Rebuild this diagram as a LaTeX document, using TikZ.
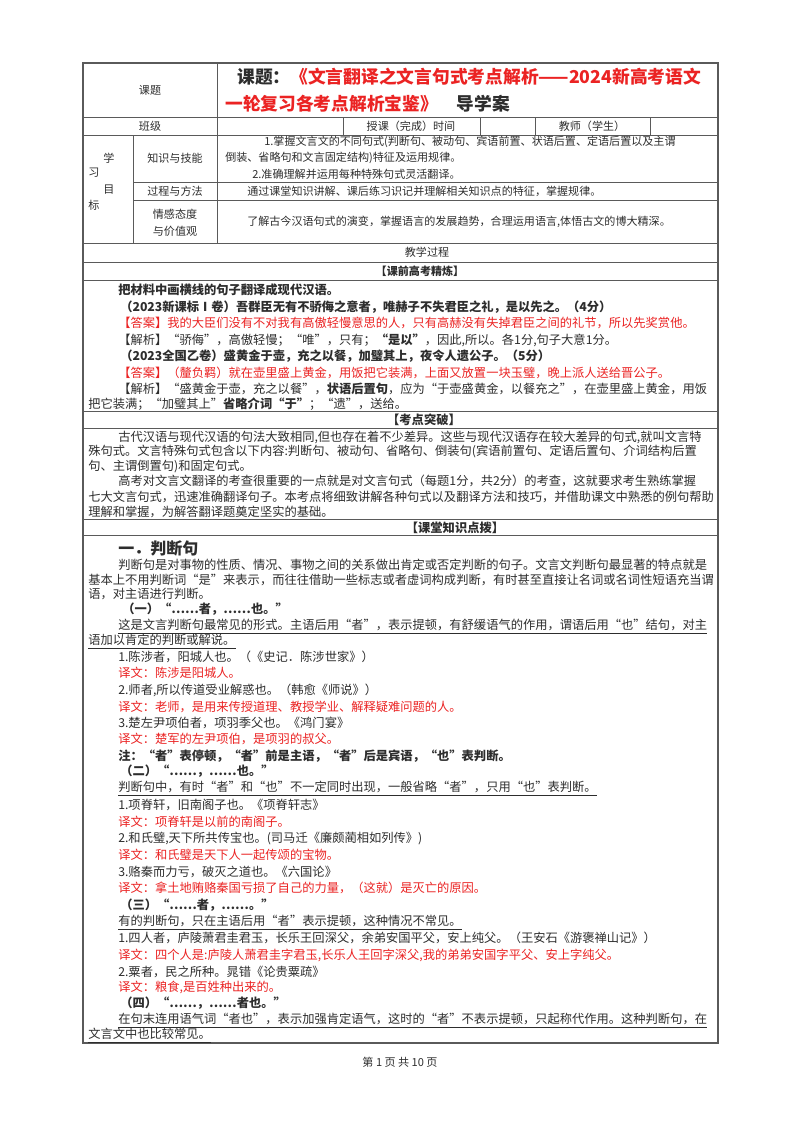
\documentclass[tikz,border=0pt]{standalone}
\usepackage{fontspec}
\setmainfont{Noto Sans CJK SC}
\definecolor{tx}{RGB}{45,45,45}
\definecolor{rd}{RGB}{235,35,35}
\definecolor{ln}{RGB}{90,90,90}
\newcommand{\fb}{\fontsize{9.2pt}{11pt}\selectfont}
\newcommand{\ft}{\fontsize{8.3pt}{10pt}\selectfont}
\newcommand{\Ln}[5]{\node[txt,#1] (#2) at (#3,#4) {#5};}
\newcommand{\Ul}[1]{\draw[ul] ([yshift=-1.5pt]#1.south west) -- ([yshift=-1.5pt]#1.south east);}
\begin{document}
\begin{tikzpicture}[x=0.75pt,y=-0.75pt,
  txt/.style={anchor=west,inner sep=0pt,font=\fb,text=tx},
  ctr/.style={anchor=center},
  red/.style={text=rd},
  bld/.style={font=\fb\bfseries},
  tbl/.style={font=\ft},
  grid/.style={draw=ln,line width=0.7pt},
  ul/.style={draw=tx,line width=0.5pt}]
\useasboundingbox (0,0) rectangle (800,1132);
\fill[white] (0,0) rectangle (800,1132);
% table frame
\draw[grid,line width=1pt] (83,63) rectangle (718,1043);
\foreach \y in {117,135,243,262,280,411,428,519,535} \draw[grid] (83,\y) -- (718,\y);
\foreach \y in {182,200} \draw[grid] (133,\y) -- (718,\y);
\draw[grid] (217,63) -- (217,243);
\draw[grid] (133,135) -- (133,243);
\foreach \x in {343,480,535,650} \draw[grid] (\x,117) -- (\x,135);
% header
\Ln{ctr,tbl}{kt}{150}{90}{课题}
\node[txt,font=\fontsize{13.3pt}{16pt}\selectfont\bfseries] (t1) at (237,77) {课题：\textcolor{rd}{《文言翻译之文言句式考点解析——2024新高考语文}};
\node[txt,font=\fontsize{13.3pt}{16pt}\selectfont\bfseries] (t2) at (225,104) {\textcolor{rd}{一轮复习各考点解析宝鉴》}\hspace{14pt}导学案};
\Ln{ctr,tbl}{bj}{150}{126}{班级}
\Ln{ctr,tbl}{sk}{411}{126}{授课（完成）时间}
\Ln{ctr,tbl}{js}{592}{126}{教师（学生）}
\Ln{ctr,tbl}{x1}{109}{158}{学}
\Ln{ctr,tbl}{x2}{94}{173}{习}
\Ln{ctr,tbl}{x3}{109}{190}{目}
\Ln{ctr,tbl}{x4}{94}{205}{标}
\Ln{ctr,tbl}{zs}{175}{158}{知识与技能}
\Ln{ctr,tbl}{gc}{175}{191}{过程与方法}
\Ln{ctr,tbl}{qg1}{175}{214}{情感态度}
\Ln{ctr,tbl}{qg2}{175}{231}{与价值观}
\Ln{tbl}{k1}{264}{142}{1.掌握文言文的不同句式(判断句、被动句、宾语前置、状语后置、定语后置以及主谓}
\Ln{tbl}{k2}{225}{158}{倒装、省略句和文言固定结构)特征及运用规律。}
\Ln{tbl}{k3}{252}{174}{2.准确理解并运用每种特殊句式灵活翻译。}
\Ln{tbl}{g1}{247}{191}{通过课堂知识讲解、课后练习识记并理解相关知识点的特征，掌握规律。}
\Ln{tbl}{q1}{247}{222}{了解古今汉语句式的演变，掌握语言的发展趋势，合理运用语言,体悟古文的博大精深。}
\Ln{ctr,tbl}{jx}{427}{252}{教学过程}
\Ln{ctr,tbl,font=\ft\bfseries}{kq}{420}{271}{【课前高考精炼】}
% 课前
\Ln{bld}{a1}{118}{290}{把材料中画横线的句子翻译成现代汉语。}
\Ln{bld}{a2}{120}{307}{（2023新课标Ⅰ卷）吾群臣无有不骄侮之意者，唯赫子不失君臣之礼，是以先之。（4分）}
\Ln{red}{a3}{118}{323}{【答案】我的大臣们没有不对我有高傲轻慢意思的人，只有高赫没有失掉君臣之间的礼节，所以先奖赏他。}
\Ln{}{a4}{118}{340}{【解析】“骄侮”，高傲轻慢；“唯”，只有；\textbf{“是以”}，因此,所以。各1分,句子大意1分。}
\Ln{bld}{a5}{120}{356}{（2023全国乙卷）盛黄金于壶，充之以餐，加璧其上，夜令人遗公子。（5分）}
\Ln{red}{a6}{118}{373}{【答案】（釐负羁）就在壶里盛上黄金，用饭把它装满，上面又放置一块玉璧，晚上派人送给晋公子。}
\Ln{}{a7}{118}{389}{【解析】“盛黄金于壶，充之以餐”，\textbf{状语后置句}，应为“于壶盛黄金，以餐充之”，在壶里盛上黄金，用饭}
\Ln{}{a8}{88}{404}{把它装满；“加璧其上”\textbf{省略介词“于”}；“遗”，送给。}
\Ln{ctr,bld}{kd}{424}{420}{【考点突破】}
\Ln{}{b1}{118}{437}{古代汉语与现代汉语的句法大致相同,但也存在着不少差异。这些与现代汉语存在较大差异的句式,就叫文言特}
\Ln{}{b2}{88}{452}{殊句式。文言特殊句式包含以下内容:判断句、被动句、省略句、倒装句(宾语前置句、定语后置句、介词结构后置}
\Ln{}{b3}{88}{466}{句、主谓倒置句)和固定句式。}
\Ln{}{b4}{118}{481}{高考对文言文翻译的考查很重要的一点就是对文言句式（每题1分，共2分）的考查，这就要求考生熟练掌握}
\Ln{}{b5}{88}{497}{七大文言句式，迅速准确翻译句子。本考点将细致讲解各种句式以及翻译方法和技巧，并借助课文中熟悉的例句帮助}
\Ln{}{b6}{88}{512}{理解和掌握，为解答翻译题奠定坚实的基础。}
\Ln{ctr,bld}{kt2}{455}{528}{【课堂知识点拨】}
% 判断句
\Ln{font=\fontsize{12pt}{14pt}\selectfont\bfseries}{c0}{118}{548}{一．判断句}
\Ln{}{c1}{118}{565}{判断句是对事物的性质、情况、事物之间的关系做出肯定或否定判断的句子。文言文判断句最显著的特点就是}
\Ln{}{c2}{88}{580}{基本上不用判断词“是”来表示，而往往借助一些标志或者虚词构成判断，有时甚至直接让名词或名词性短语充当谓}
\Ln{}{c3}{88}{594}{语，对主语进行判断。}
\Ln{bld}{c4}{122}{609}{（一）“……者，……也。”}
\Ln{}{c5}{118}{625}{这是文言判断句最常见的形式。主语后用“者”，表示提顿，有舒缓语气的作用，谓语后用“也”结句，对主}
\Ln{}{c6}{88}{640}{语加以肯定的判断或解说。}
\Ul{c5}\Ul{c6}
\Ln{}{c7}{118}{657}{1.陈涉者，阳城人也。（《史记．陈涉世家》）}
\Ln{red}{c8}{118}{673}{译文：陈涉是阳城人。}
\Ln{}{c9}{118}{690}{2.师者,所以传道受业解惑也。（韩愈《师说》）}
\Ln{red}{c10}{118}{707}{译文：老师，是用来传授道理、教授学业、解释疑难问题的人。}
\Ln{}{c11}{118}{723}{3.楚左尹项伯者，项羽季父也。《鸿门宴》}
\Ln{red}{c12}{118}{739}{译文：楚军的左尹项伯，是项羽的叔父。}
\Ln{bld}{c13}{118}{756}{注：“者”表停顿，“者”前是主语，“者”后是宾语，“也”表判断。}
\Ln{bld}{c14}{120}{771}{（二）“……，……也。”}
\Ln{}{c15}{118}{787}{判断句中，有时“者”和“也”不一定同时出现，一般省略“者”，只用“也”表判断。}
\Ul{c15}
\Ln{}{c16}{118}{805}{1.项脊轩，旧南阁子也。《项脊轩志》}
\Ln{red}{c17}{118}{822}{译文：项脊轩是以前的南阁子。}
\Ln{}{c18}{118}{838}{2.和氏璧,天下所共传宝也。(司马迁《廉颇蔺相如列传》)}
\Ln{red}{c19}{118}{855}{译文：和氏璧是天下人一起传颂的宝物。}
\Ln{}{c20}{118}{872}{3.赂秦而力亏，破灭之道也。《六国论》}
\Ln{red}{c21}{118}{888}{译文：拿土地贿赂秦国亏损了自己的力量，（这就）是灭亡的原因。}
\Ln{bld}{c22}{120}{905}{（三）“……者，……。”}
\Ln{}{c23}{118}{921}{有的判断句，只在主语后用“者”表示提顿，这种情况不常见。}
\Ul{c23}
\Ln{}{c24}{118}{938}{1.四人者，庐陵萧君圭君玉，长乐王回深父，余弟安国平父，安上纯父。（王安石《游褒禅山记》）}
\Ln{red}{c25}{118}{955}{译文：四个人是:庐陵人萧君圭字君玉,长乐人王回字深父,我的弟弟安国字平父、安上字纯父。}
\Ln{}{c26}{118}{972}{2.粟者，民之所种。晁错《论贵粟疏》}
\Ln{red}{c27}{118}{987}{译文：粮食,是百姓种出来的。}
\Ln{bld}{c28}{120}{1003}{（四）“……，……者也。”}
\Ln{}{c29}{118}{1019}{在句末连用语气词“者也”，表示加强肯定语气，这时的“者”不表示提顿，只起称代作用。这种判断句，在}
\Ln{}{c30}{88}{1034}{文言文中也比较常见。}
\Ul{c29}\Ul{c30}
\Ln{ctr,tbl}{ft}{400}{1062}{第 1 页 共 10 页}
\end{tikzpicture}
\end{document}
